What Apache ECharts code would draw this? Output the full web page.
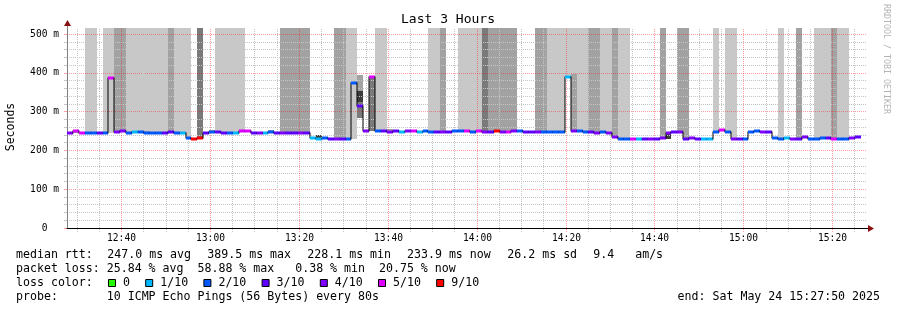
<!DOCTYPE html>
<html>
<head>
<meta charset="utf-8">
<script src="https://cdn.jsdelivr.net/npm/echarts@6/dist/echarts.min.js"></script>
<style>html,body{margin:0;padding:0;background:#fff;}#c{width:897px;height:310px;}</style>
</head>
<body>
<div id="c"></div>
<script>
// ---------------- data ----------------
const startClock = '12:27:50';
const spanMinutes = 180;
const stepSeconds = 80;

// median RTT per 80 s sample (ms)
const median = [
  245, 249, 246, 246, 244, 245, 245, 386, 248, 249,
  245, 247, 248, 246, 246, 246, 245, 247, 246, 246,
  231, 228.5, 232, 246, 248, 247, 246, 246, 246, 251,
  249, 245, 246, 246, 247, 246, 246, 246, 246, 246,
  245, 231, 229, 231, 230, 230, 230, 228.1, 373, 314,
  249, 388, 251, 249, 248, 249, 248, 249, 251, 248,
  250, 248, 248, 248, 248, 249, 249, 249, 248, 250,
  248, 248, 250, 248, 248, 249, 250, 248, 247, 247,
  247, 247, 247, 247, 389.5, 251, 249, 248, 247, 246,
  247, 246, 234, 228.1, 228.1, 229, 229, 229, 229, 228.1,
  232, 246, 247, 247, 230, 231, 230, 230, 228.1, 248,
  253, 248, 230, 230, 230, 248, 249, 248, 248, 232,
  230, 232, 230, 230, 235, 230, 230, 232, 231, 229,
  230, 230, 231, 233.9
];

// lost pings (out of 10) per sample
const lossCount = [
  4, 5, 5, 2, 2, 3, 2, 5, 4, 4,
  2, 1, 2, 2, 2, 2, 3, 3, 2, 1,
  2, 9, 9, 3, 2, 3, 3, 2, 1, 5,
  5, 3, 4, 1, 2, 3, 4, 3, 3, 4,
  3, 1, 1, 2, 3, 4, 3, 2, 2, 3,
  4, 5, 2, 3, 4, 3, 1, 4, 5, 1,
  2, 2, 3, 4, 3, 2, 2, 5, 2, 5,
  4, 3, 9, 4, 5, 4, 2, 3, 3, 4,
  2, 2, 2, 2, 1, 4, 2, 2, 3, 4,
  2, 4, 4, 2, 2, 5, 1, 3, 4, 3,
  4, 4, 3, 4, 3, 4, 3, 1, 1, 2,
  5, 2, 4, 3, 2, 2, 2, 4, 3, 2,
  2, 1, 4, 3, 4, 2, 2, 2, 3, 5,
  2, 2, 4, 3
];

const lossKeys   = [0, 1, 2, 3, 4, 5, 9];
const lossColors = ['#26ff00', '#00b8ff', '#0059ff', '#5e00ff', '#7e00ff', '#dd00ff', '#ff0000'];
const lossLabels = ['0', '1/10', '2/10', '3/10', '4/10', '5/10', '9/10'];

// smoke bands: [fromSample, toSample, low (null = median), high, shade]
const smokeBands = [
  [3, 4, null, 515, 0], [6, 6, null, 515, 0], [7, 7, 245, 515, 0], [8, 9, null, 515, 1],
  [10, 16, null, 515, 0], [17, 17, null, 515, 1], [18, 20, null, 515, 0], [22, 22, null, 515, 2],
  [25, 29, null, 515, 0], [36, 40, null, 515, 1], [45, 46, null, 515, 1], [47, 47, null, 515, 0],
  [48, 48, 230, 515, 0], [49, 49, 283, 395, 1], [49, 49, 283, 354, 2], [49, 49, 324, 354, 3],
  [51, 51, 250, 388, 2], [52, 53, null, 515, 0], [61, 62, null, 515, 0], [63, 63, null, 515, 1],
  [66, 69, null, 515, 0], [70, 70, null, 515, 2], [71, 75, null, 515, 1], [79, 80, null, 515, 1],
  [81, 83, null, 515, 0], [84, 84, null, 515, 0], [85, 85, null, 515, 0], [85, 85, null, 397, 1],
  [86, 87, null, 515, 0], [88, 89, null, 515, 1], [90, 91, null, 515, 0], [92, 92, null, 515, 1],
  [93, 94, null, 515, 0], [100, 100, null, 515, 1], [103, 104, null, 515, 1], [109, 109, null, 515, 0],
  [111, 112, null, 515, 0], [120, 120, null, 515, 0], [123, 123, null, 515, 1], [126, 128, null, 515, 0],
  [129, 129, null, 515, 1], [130, 131, null, 515, 0],
  [42, 42, 229, 240, 3], [101, 101, 230, 246, 3], [1, 1, 246, 253, 1], [13, 13, 246, 251, 1],
  [24, 24, 246, 252, 1], [34, 34, 246, 252, 1], [54, 54, 247, 254, 1], [72, 72, 248, 254, 1]
];
const shadeColors = ['#c8c8c8', '#a2a2a2', '#7a7a7a', '#3c3c3c'];

const xTickLabels = ['12:40', '13:00', '13:20', '13:40', '14:00', '14:20', '14:40', '15:00', '15:20'];
const yTickLabels = ['0  ', '100 m', '200 m', '300 m', '400 m', '500 m'];

const titleText = 'Last 3 Hours';
const yAxisTitle = 'Seconds';
const sideText = 'RRDTOOL / TOBI OETIKER';
// legend rows: each row is a list of text chunks placed like rrdtool places them
const statRows = [
  ['median rtt:', '247.0 ms avg', '389.5 ms max', '228.1 ms min', '233.9 ms now', '26.2 ms sd', '9.4   am/s'],
  ['packet loss: 25.84 % avg  58.88 % max   0.38 % min  20.75 % now'],
  ['loss color:'],
  ['probe:       10 ICMP Echo Pings (56 Bytes) every 80s']
];
const endText = 'end: Sat May 24 15:27:50 2025';

// ---------------- helpers ----------------
function clockToSec(s) { const p = s.split(':').map(Number); return p[0] * 3600 + p[1] * 60 + (p[2] || 0); }
const t0 = clockToSec(startClock);
const t1 = t0 + spanMinutes * 60;
const sampleStart = median.map((_, i) => t0 + i * stepSeconds);
function lossColor(c) { let k = 0; for (let j = 0; j < lossKeys.length; j++) if (c >= lossKeys[j]) k = j; return lossColors[k]; }

const majorTimes = xTickLabels.map(clockToSec);
const minorTimes = [];
for (let t = Math.ceil(t0 / 300) * 300; t < t1; t += 300) if (majorTimes.indexOf(t) < 0) minorTimes.push(t);

const MONO = 'DejaVu Sans Mono';
const LEG_FONT = '11.6px ' + MONO;
const row1X = [16, 107.3, 207.3, 307.3, 407, 507.3, 593.3];
const MAJOR_COL = 'rgba(255,0,0,0.38)';
const MINOR_COL = '#c6c6c6';

const chart = echarts.init(document.getElementById('c'), null, { renderer: 'canvas', width: 897, height: 310 });

const legendEls = [];
statRows.forEach((row, r) => {
  row.forEach((s, k) => {
    legendEls.push({ type: 'text', x: r === 0 ? row1X[k] : 16, y: 254.5 + r * 14, style: { text: s, font: LEG_FONT, fill: '#000', textAlign: 'left', textVerticalAlign: 'middle' } });
  });
});
(function () {
  let x = 108;
  lossLabels.forEach((lab, j) => {
    legendEls.push({ type: 'rect', shape: { x: x + 0.5, y: 279.5, width: 7, height: 7 }, style: { fill: lossColors[j], stroke: '#000', lineWidth: 1 } });
    legendEls.push({ type: 'text', x: x + 15, y: 283, style: { text: lab, font: LEG_FONT, fill: '#000', textAlign: 'left', textVerticalAlign: 'middle' } });
    x = x + 15 + lab.length * 7 + 15.2;
  });
})();

const option = {
  backgroundColor: '#ffffff',
  animation: false,
  grid: { left: 67, right: 30, top: 34, bottom: 82 },
  xAxis: {
    type: 'value', min: t0, max: t1, z: 3,
    axisLine: { show: true, lineStyle: { color: '#000', width: 1 } },
    axisTick: { show: false }, axisLabel: { show: false }, splitLine: { show: false }
  },
  yAxis: {
    type: 'value', min: 0, max: 500, interval: 100, z: 3,
    axisLine: { show: true, lineStyle: { color: '#808080', width: 1 } },
    axisTick: { show: true, length: 3, lineStyle: { color: MAJOR_COL } },
    minorTick: { show: true, splitNumber: 5, length: 3, lineStyle: { color: MINOR_COL } },
    axisLabel: {
      fontFamily: MONO, fontSize: 9.6, color: '#000', margin: 8,
      formatter: v => yTickLabels[Math.round(v / 100)]
    },
    splitLine: { show: true, lineStyle: { color: MAJOR_COL, type: [1, 1], width: 1 } },
    minorSplitLine: { show: true, lineStyle: { color: MINOR_COL, type: [1, 1], width: 1 } }
  },
  series: [
    { // smoke
      type: 'custom', z: 2, clip: false, silent: true,
      data: smokeBands.map(b => [sampleStart[b[0]], b[3]]),
      renderItem(params, api) {
        const b = smokeBands[params.dataIndex];
        const children = [];
        for (let k = b[0]; k <= b[1]; k++) {
          const lo = b[2] == null ? median[k] : b[2];
          const a = api.coord([sampleStart[k], b[3]]);
          const c = api.coord([sampleStart[k] + stepSeconds, lo]);
          const x0 = Math.round(a[0]), x1 = Math.round(c[0]);
          const y0 = Math.round(a[1]), y1 = Math.round(c[1]);
          children.push({ type: 'rect', shape: { x: x0, y: y0, width: x1 - x0, height: y1 - y0 }, style: { fill: shadeColors[b[4]] } });
        }
        return { type: 'group', children };
      }
    },
    { // vertical grid lines + time labels
      type: 'custom', z: 3, clip: false, silent: true,
      data: minorTimes.map(t => [t, 0, 0]).concat(majorTimes.map(t => [t, 0, 1])),
      renderItem(params, api) {
        const t = api.value(0), major = api.value(2) === 1;
        const b = api.coord([t, -10]), top = api.coord([t, 515]);
        const x = Math.round(b[0]) + 0.5;
        const ch = [{
          type: 'line', shape: { x1: x, y1: Math.round(b[1]), x2: x, y2: Math.round(top[1]) },
          style: { stroke: major ? MAJOR_COL : MINOR_COL, lineWidth: 1, lineDash: [1, 1] }
        }];
        if (major) {
          const base = api.coord([t, 0]);
          ch.push({ type: 'text', style: { text: xTickLabels[majorTimes.indexOf(t)], x: x, y: base[1] + 10, textAlign: 'center', textVerticalAlign: 'middle', font: '9.6px ' + MONO, fill: '#000' } });
        }
        return { type: 'group', children: ch };
      }
    },
    { // median line + loss-coloured band
      type: 'custom', z: 5, clip: false, silent: true,
      data: median.map((m, i) => [sampleStart[i], m, lossCount[i]]),
      renderItem(params, api) {
        const i = params.dataIndex;
        const a = api.coord([sampleStart[i], median[i]]);
        const c = api.coord([sampleStart[i] + stepSeconds, median[i]]);
        const x0 = Math.round(a[0]), x1 = Math.round(c[0]);
        const y = Math.round(a[1]);
        const ch = [];
        if (i > 0) {
          const p = api.coord([sampleStart[i], median[i - 1]]);
          const yp = Math.round(p[1]);
          ch.push({ type: 'rect', shape: { x: x0 - 0.5, y: Math.min(y, yp) - 0.5, width: 1, height: Math.abs(y - yp) + 1 }, style: { fill: '#000' } });
        }
        ch.push({ type: 'rect', shape: { x: x0, y: y - 1.5, width: x1 - x0, height: 3 }, style: { fill: lossColor(lossCount[i]) } });
        return { type: 'group', children: ch };
      }
    }
  ],
  graphic: [
    { type: 'line', shape: { x1: 67.5, y1: 34, x2: 67.5, y2: 25 }, style: { stroke: '#808080', lineWidth: 1 }, z: 10 },
    { type: 'polygon', shape: { points: [[67.5, 20], [64, 26], [71, 26]] }, style: { fill: '#8b1010' }, z: 10 },
    { type: 'line', shape: { x1: 867, y1: 228.5, x2: 869, y2: 228.5 }, style: { stroke: '#000', lineWidth: 1 }, z: 10 },
    { type: 'polygon', shape: { points: [[874, 228.5], [868, 225], [868, 232]] }, style: { fill: '#8b1010' }, z: 10 },
    { type: 'text', x: 448, y: 20, style: { text: titleText, font: '13px ' + MONO, fill: '#000', textAlign: 'center', textVerticalAlign: 'middle' } },
    { type: 'text', x: 11, y: 127, rotation: Math.PI / 2, style: { text: yAxisTitle, font: '11.5px ' + MONO, fill: '#000', textAlign: 'center', textVerticalAlign: 'middle' } },
    { type: 'text', x: 886, y: 4, rotation: -Math.PI / 2, style: { text: sideText, font: '8.3px ' + MONO, fill: '#b4b4b4', textAlign: 'left', textVerticalAlign: 'middle' } },
    { type: 'text', x: 880, y: 296.5, style: { text: endText, font: LEG_FONT, fill: '#000', textAlign: 'right', textVerticalAlign: 'middle' } },
    ...legendEls
  ]
};
chart.setOption(option);
</script>
</body>
</html>
